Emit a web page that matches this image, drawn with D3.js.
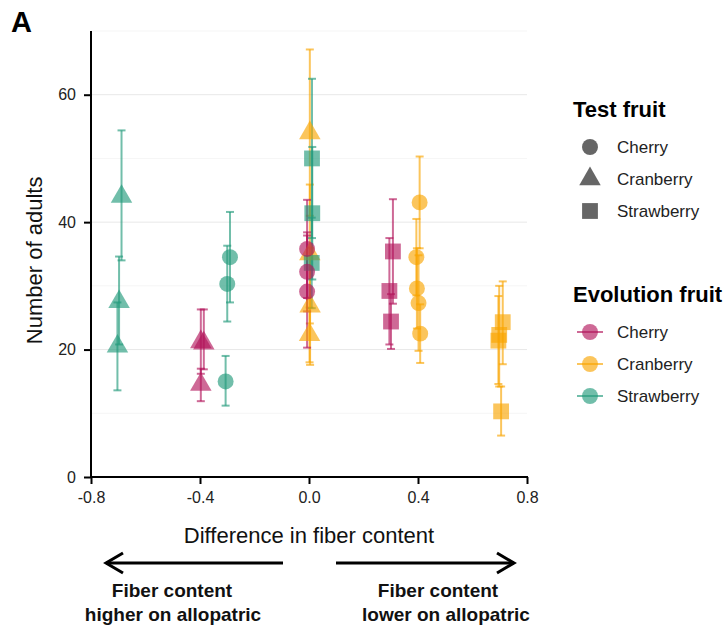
<!DOCTYPE html>
<html>
<head>
<meta charset="utf-8">
<script src="https://cdn.jsdelivr.net/npm/d3@7"></script>
<style>
  html, body { margin: 0; padding: 0; background: #fff; }
  svg { display: block; font-family: "Liberation Sans", Arial, Helvetica, sans-serif; }
</style>
</head>
<body>
<svg id="chart" width="728" height="633"></svg>
<script>
// Evolution fruit (colour) and test fruit (shape) for every population mean
const evolutionFruit = ["Cranberry","Cranberry","Cranberry","Cranberry",
  "Cranberry","Cranberry","Cranberry","Cranberry","Cranberry",
  "Cranberry","Cranberry","Cranberry","Cranberry",
  "Strawberry","Strawberry","Strawberry",
  "Strawberry","Strawberry","Strawberry",
  "Strawberry","Strawberry","Strawberry",
  "Cherry","Cherry","Cherry",
  "Cherry","Cherry","Cherry",
  "Cherry","Cherry","Cherry"];
const testFruit = ["Cranberry","Cranberry","Cranberry","Cranberry",
  "Cherry","Cherry","Cherry","Cherry","Cherry",
  "Strawberry","Strawberry","Strawberry","Strawberry",
  "Cranberry","Cranberry","Cranberry",
  "Cherry","Cherry","Cherry",
  "Strawberry","Strawberry","Strawberry",
  "Cranberry","Cranberry","Cranberry",
  "Cherry","Cherry","Cherry",
  "Strawberry","Strawberry","Strawberry"];
// Difference in fiber content
const fiberDiff = [0.003, 0.003, 0.004, 0.002,
  0.406, 0.394, 0.396, 0.402, 0.408,
  0.711, 0.698, 0.695, 0.705,
  -0.688, -0.697, -0.703,
  -0.290, -0.300, -0.306,
  0.011, 0.012, 0.010,
  -0.397, -0.386, -0.397,
  -0.007, -0.007, -0.007,
  0.308, 0.295, 0.301];
// Mean number of adults and error bar limits
const adults = [54.0, 35.0, 26.8, 22.3,
  43.1, 34.5, 29.6, 27.3, 22.5,
  24.3, 22.3, 21.4, 10.3,
  44.0, 27.5, 20.5,
  34.5, 30.3, 15.0,
  50.0, 41.4, 33.6,
  21.2, 21.0, 14.5,
  35.8, 32.2, 29.1,
  35.4, 29.2, 24.4];
const adultsLow = [41.0, 24.1, 17.6, 18.0,
  35.9, 28.5, 23.3, 19.8, 17.9,
  17.7, 14.2, 14.6, 6.5,
  34.0, 20.8, 13.6,
  27.4, 24.4, 11.2,
  37.5, 31.0, 26.5,
  16.2, 16.9, 11.9,
  28.1, 26.0, 20.3,
  27.2, 20.8, 20.1];
const adultsHigh = [67.1, 45.9, 36.0, 26.6,
  50.3, 40.5, 35.9, 34.8, 27.1,
  30.7, 30.0, 28.4, 14.2,
  54.4, 34.6, 27.4,
  41.6, 36.3, 19.0,
  62.5, 51.8, 40.7,
  26.3, 26.3, 17.0,
  43.5, 38.4, 37.9,
  43.6, 37.5, 28.7];

// Axis ticks and legend entries
const xTicks = [-0.8, -0.4, 0.0, 0.4, 0.8];
const yTicks = [0, 20, 40, 60];
const yMinor = [10, 30, 50, 70];
const testLevels = ["Cherry", "Cranberry", "Strawberry"];
const evolutionLevels = ["Cherry", "Cranberry", "Strawberry"];
const evolutionColors = ["#b3145a", "#f9a400", "#21997a"];

const rows = adults.map((v, i) => ({
  evo: evolutionFruit[i], test: testFruit[i], x: fiberDiff[i],
  y: v, lo: adultsLow[i], hi: adultsHigh[i]
}));

const svg = d3.select("#chart");
const font = '"Liberation Sans", Arial, Helvetica, sans-serif';

const x = d3.scaleLinear().domain([-0.8, 0.8]).range([91, 527]);
const y = d3.scaleLinear().domain([0, 70]).range([477, 31]);
const color = d3.scaleOrdinal().domain(evolutionLevels).range(evolutionColors);
const shape = d3.scaleOrdinal().domain(testLevels)
  .range([d3.symbolCircle, d3.symbolTriangle, d3.symbolSquare]);
const shapeSize = d3.scaleOrdinal().domain(testLevels).range([200, 200, 250]);
const markOpacity = 0.64;

// Grid lines
const grid = svg.append("g");
grid.selectAll("line.minor").data(yMinor).join("line")
  .attr("x1", x(-0.8)).attr("x2", x(0.8))
  .attr("y1", d => y(d)).attr("y2", d => y(d))
  .attr("stroke", "#f3f3f3").attr("stroke-width", 0.8);
grid.selectAll("line.major").data(yTicks.filter(d => d > 0)).join("line")
  .attr("x1", x(-0.8)).attr("x2", x(0.8))
  .attr("y1", d => y(d)).attr("y2", d => y(d))
  .attr("stroke", "#e8e8e8").attr("stroke-width", 1);

// Error bars
const bars = svg.append("g");
rows.forEach(d => {
  const g = bars.append("g").attr("stroke", color(d.evo))
    .attr("stroke-opacity", markOpacity).attr("stroke-width", 2);
  g.append("line").attr("x1", x(d.x)).attr("x2", x(d.x))
    .attr("y1", y(d.lo)).attr("y2", y(d.hi));
  [d.lo, d.hi].forEach(v => g.append("line")
    .attr("x1", x(d.x) - 4).attr("x2", x(d.x) + 4)
    .attr("y1", y(v)).attr("y2", y(v)));
});

// Points
svg.append("g").selectAll("path").data(rows).join("path")
  .attr("transform", d => `translate(${x(d.x)},${y(d.y)})`)
  .attr("d", d => d3.symbol().type(shape(d.test)).size(shapeSize(d.test))())
  .attr("fill", d => color(d.evo))
  .attr("fill-opacity", markOpacity);

// Axes
const xAxis = svg.append("g").attr("transform", `translate(0,${y(0)})`)
  .call(d3.axisBottom(x).tickValues(xTicks).tickFormat(d => d.toFixed(1)).tickSize(7).tickPadding(8));
const yAxis = svg.append("g").attr("transform", `translate(${x(-0.8)},0)`)
  .call(d3.axisLeft(y).tickValues(yTicks).tickSize(7).tickPadding(8));
[xAxis, yAxis].forEach(a => {
  a.select(".domain").attr("stroke", "#000").attr("stroke-width", 2);
  a.selectAll(".tick line").attr("stroke", "#000").attr("stroke-width", 2);
  a.selectAll(".tick text").attr("fill", "#222").style("font-size", "16px").style("font-family", font);
});
yAxis.select(".domain").attr("d", `M0,${y(70)}V${y(0) + 1}`);
xAxis.select(".domain").attr("d", `M${x(-0.8) - 1},0H${x(0.8) + 1}`);

// Axis titles
svg.append("text").attr("x", x(0)).attr("y", 543).attr("text-anchor", "middle")
  .style("font-size", "22px").attr("fill", "#111").text("Difference in fiber content");
svg.append("text").attr("transform", `translate(42,${y(34)}) rotate(-90)`)
  .attr("text-anchor", "middle").style("font-size", "22px").attr("fill", "#111")
  .text("Number of adults");

// Panel tag
svg.append("text").attr("x", 11).attr("y", 32).style("font-size", "29px")
  .style("font-weight", "bold").attr("fill", "#000").text("A");

// Direction arrows under the x axis
const arrows = svg.append("g").attr("stroke", "#000").attr("stroke-width", 3)
  .attr("fill", "none").attr("stroke-linecap", "butt");
arrows.append("line").attr("x1", 283).attr("x2", 106).attr("y1", 563).attr("y2", 563);
arrows.append("path").attr("d", "M123,553L106,563L123,573");
arrows.append("line").attr("x1", 336).attr("x2", 514).attr("y1", 563).attr("y2", 563);
arrows.append("path").attr("d", "M497,553L514,563L497,573");

const notes = [
  {x: 172, y: 597, t: "Fiber content"},
  {x: 173, y: 621, t: "higher on allopatric"},
  {x: 438, y: 597, t: "Fiber content"},
  {x: 446, y: 621, t: "lower on allopatric"}
];
svg.append("g").selectAll("text").data(notes).join("text")
  .attr("x", d => d.x).attr("y", d => d.y).attr("text-anchor", "middle")
  .style("font-size", "19px").style("font-weight", "bold").attr("fill", "#111")
  .text(d => d.t);

// Legends
const legend = svg.append("g");
legend.append("text").attr("x", 573).attr("y", 117).style("font-size", "22px")
  .style("font-weight", "bold").attr("fill", "#000").text("Test fruit");
const testY = [147, 179, 211];
testLevels.forEach((lv, i) => {
  legend.append("path").attr("transform", `translate(590,${testY[i]})`)
    .attr("d", d3.symbol().type(shape(lv)).size(shapeSize(lv))())
    .attr("fill", "#333").attr("fill-opacity", 0.75);
  legend.append("text").attr("x", 617).attr("y", testY[i] + 6).style("font-size", "17px")
    .attr("fill", "#222").text(lv);
});
legend.append("text").attr("x", 573).attr("y", 302).style("font-size", "22px")
  .style("font-weight", "bold").attr("fill", "#000").text("Evolution fruit");
const evoY = [332, 364, 396];
evolutionLevels.forEach((lv, i) => {
  legend.append("line").attr("x1", 577).attr("x2", 603)
    .attr("y1", evoY[i]).attr("y2", evoY[i])
    .attr("stroke", color(lv)).attr("stroke-opacity", markOpacity).attr("stroke-width", 2);
  legend.append("path").attr("transform", `translate(590,${evoY[i]})`)
    .attr("d", d3.symbol().type(d3.symbolCircle).size(200)())
    .attr("fill", color(lv)).attr("fill-opacity", markOpacity);
  legend.append("text").attr("x", 617).attr("y", evoY[i] + 6).style("font-size", "17px")
    .attr("fill", "#222").text(lv);
});
</script>
</body>
</html>
